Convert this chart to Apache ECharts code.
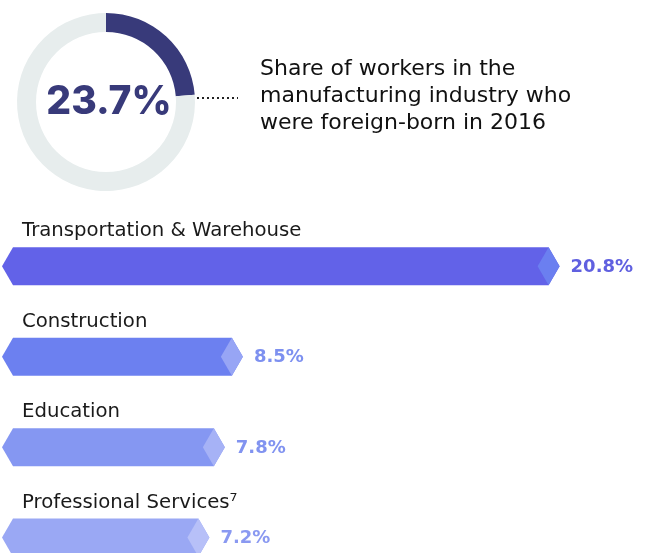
<!DOCTYPE html>
<html>
<head>
<meta charset="utf-8">
<script src="https://cdn.jsdelivr.net/npm/echarts@6/dist/echarts.min.js"></script>
<style>
  html, body { margin: 0; padding: 0; background: #fff; }
  #main { width: 650px; height: 553px; }
</style>
</head>
<body>
<div id="main"></div>
<script>
// donut
const shareValue = 23.7;
const shareText = ['Share of workers in the', 'manufacturing industry who', 'were foreign-born in 2016'];

// bars
const industries = ['Transportation & Warehouse', 'Construction', 'Education', 'Professional Services⁷'];
const shares = [20.8, 8.5, 7.8, 7.2];
const bodyColors = ['#6262e8', '#6c80f0', '#8597f2', '#9aa8f4'];
const capColors = ['#6b7ff0', '#97a5f5', '#a6b2f6', '#b7c0f8'];
const labelColors = ['#6060e0', '#7d90f0', '#8193f0', '#8a99f1'];

const FONT = '"DejaVu Sans", sans-serif';

let chart = echarts.init(document.getElementById('main'));

function renderBar(params, api) {
  const i = api.value(1);
  const v = api.value(0);
  const start = api.coord([0, i]);
  const end = api.coord([v, i]);
  const h = api.size([0, 1])[1] * 0.42;
  const tip = 11;
  const top = start[1] - h / 2;
  const bot = start[1] + h / 2;
  const cy = start[1];
  return {
    type: 'group',
    children: [
      {
        type: 'polygon',
        shape: { points: [[start[0] - tip, cy], [start[0], top], [end[0], top], [end[0] + tip, cy], [end[0], bot], [start[0], bot]] },
        style: { fill: bodyColors[i] }
      },
      {
        type: 'polygon',
        shape: { points: [[end[0] - tip, cy], [end[0], top], [end[0] + tip, cy], [end[0], bot]] },
        style: { fill: capColors[i] }
      },
      {
        type: 'text',
        x: start[0] + 9,
        y: cy - 35,
        style: {
          text: industries[i],
          fill: '#1a1a1a',
          font: '19.7px ' + FONT,
          verticalAlign: 'middle',
          align: 'left'
        }
      },
      {
        type: 'text',
        x: end[0] + tip + 11,
        y: cy + 1,
        style: {
          text: v.toFixed(1) + '%',
          fill: labelColors[i],
          font: 'bold 18px ' + FONT,
          verticalAlign: 'middle',
          align: 'left'
        }
      }
    ]
  };
}

let option = {
  animation: false,
  title: {
    text: shareText.join('\n'),
    left: 255,
    top: 51,
    textStyle: {
      fontFamily: FONT,
      fontSize: 22,
      fontWeight: 'normal',
      lineHeight: 27,
      color: '#111'
    }
  },
  grid: {
    left: 13,
    right: 19,
    top: 221,
    bottom: 0
  },
  xAxis: {
    type: 'value',
    min: 0,
    max: 24,
    show: false
  },
  yAxis: {
    type: 'value',
    inverse: true,
    min: -0.5,
    max: 3.17,
    show: false
  },
  graphic: [
    {
      type: 'line',
      shape: { x1: 197, y1: 98, x2: 238, y2: 98 },
      style: { stroke: '#222', lineWidth: 2, lineDash: [2, 3] }
    }
  ],
  series: [
    {
      type: 'pie',
      radius: [70, 89],
      center: [106, 102],
      startAngle: 90,
      clockwise: true,
      silent: true,
      label: {
        show: true,
        position: 'center',
        formatter: shareValue + '%',
        fontFamily: 'Inter, sans-serif',
        fontSize: 39,
        fontWeight: 800,
        color: '#383a7a',
        padding: [0, 0, 4, 6]
      },
      labelLine: { show: false },
      data: [
        { value: shareValue, itemStyle: { color: '#383a7a' } },
        { value: 100 - shareValue, itemStyle: { color: '#e7eded' }, label: { show: false } }
      ]
    },
    {
      type: 'custom',
      renderItem: renderBar,
      data: shares.map((v, i) => [v, i])
    }
  ]
};

chart.setOption(option, true);
</script>
</body>
</html>
